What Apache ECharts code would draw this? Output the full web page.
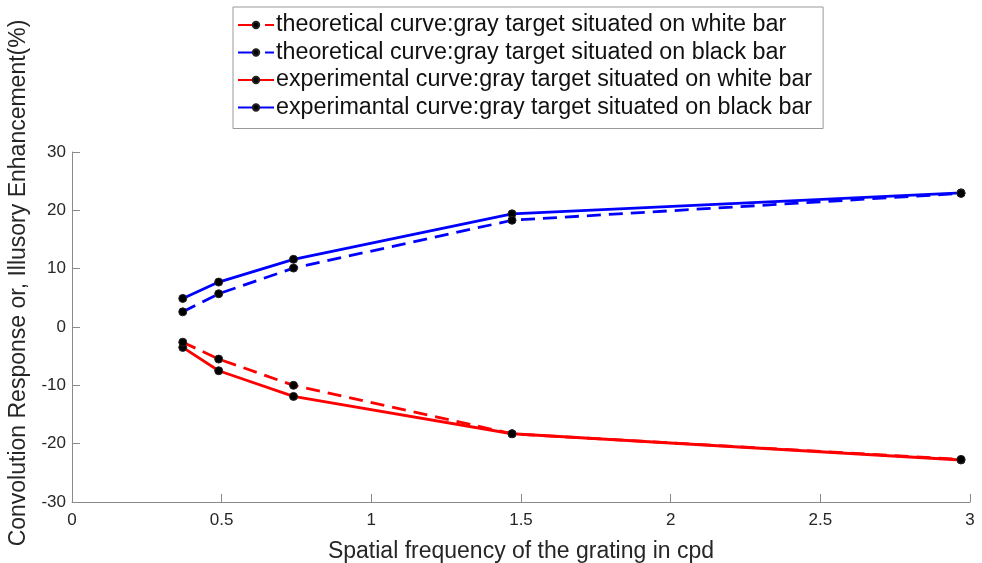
<!DOCTYPE html>
<html><head><meta charset="utf-8">
<script src="https://cdn.jsdelivr.net/npm/echarts@6/dist/echarts.min.js"></script>
<style>html,body{margin:0;padding:0;background:#fff}#c{width:982px;height:563px}</style>
</head><body><div id="c"></div>
<script>
const freq = [0.37, 0.49, 0.74, 1.47, 2.97];
const theoWhite = [-2.6, -5.5, -10.0, -18.3, -22.7];
const theoBlack = [2.6, 5.7, 10.1, 18.3, 22.9];
const expWhite = [-3.5, -7.5, -11.9, -18.3, -22.8];
const expBlack = [4.9, 7.7, 11.6, 19.4, 23.0];
const names = [
  'theoretical curve:gray target situated on white bar',
  'theoretical curve:gray target situated on black bar',
  'experimental curve:gray target situated on white bar',
  'experimantal curve:gray target situated on black bar'
];
const pair = v => freq.map((x, i) => [x, v[i]]);
const font = 'Liberation Sans, Arial, sans-serif';
function mk(name, data, color, dash) {
  return {
    name, type: 'line', data: pair(data), symbol: 'circle', symbolSize: 8,
    itemStyle: { color: '#000', borderColor: '#222', borderWidth: 1 },
    lineStyle: { color: color, width: 2.8, type: dash ? [14, 8] : 'solid' },
    emphasis: { disabled: true }, z: dash ? 3 : 2
  };
}
const chart = echarts.init(document.getElementById('c'));
chart.setOption({
  animation: false,
  grid: { left: 72, right: 12, top: 152, bottom: 61, containLabel: false, outerBoundsMode: 'none' },
  legend: {
    orient: 'vertical', left: 233, top: 7,
    data: [
      { name: names[0], lineStyle: { type: [21, 6] } },
      { name: names[1], lineStyle: { type: [21, 6] } },
      { name: names[2] },
      { name: names[3] }
    ],
    itemWidth: 36, itemHeight: 8, itemGap: 3.5,
    padding: [6, 11, 9, 4],
    borderColor: '#999', borderWidth: 1, backgroundColor: '#fff',
    textStyle: { fontFamily: font, fontSize: 23.3, lineHeight: 24, color: '#111', padding: [0, 0, 0, -3] },
    selectedMode: false
  },
  xAxis: {
    type: 'value', min: 0, max: 3, interval: 0.5,
    name: 'Spatial frequency of the grating in cpd', nameLocation: 'middle', nameGap: 38,
    nameTextStyle: { fontFamily: font, fontSize: 23, color: '#262626' },
    axisLine: { show: true, onZero: false, lineStyle: { color: '#8a8a8a', width: 1 } },
    axisTick: { show: true, inside: true, length: 8, lineStyle: { color: '#8a8a8a' } },
    axisLabel: { fontFamily: font, fontSize: 17, color: '#262626', margin: 10 },
    splitLine: { show: false }
  },
  yAxis: {
    type: 'value', min: -30, max: 30, interval: 10,
    name: 'Convolution Response or, Illusory Enhancement(%)', nameLocation: 'middle', nameGap: 41,
    nameTextStyle: { fontFamily: font, fontSize: 23, color: '#262626', padding: [0, 0, 0, 88] },
    axisLine: { show: true, onZero: false, lineStyle: { color: '#8a8a8a', width: 1 } },
    axisTick: { show: true, inside: true, length: 8, lineStyle: { color: '#8a8a8a' } },
    axisLabel: { fontFamily: font, fontSize: 17, color: '#262626', margin: 6 },
    splitLine: { show: false }
  },
  series: [
    mk(names[0], theoWhite, '#ff0000', true),
    mk(names[1], theoBlack, '#0000ff', true),
    mk(names[2], expWhite, '#ff0000', false),
    mk(names[3], expBlack, '#0000ff', false)
  ]
});
</script></body></html>
